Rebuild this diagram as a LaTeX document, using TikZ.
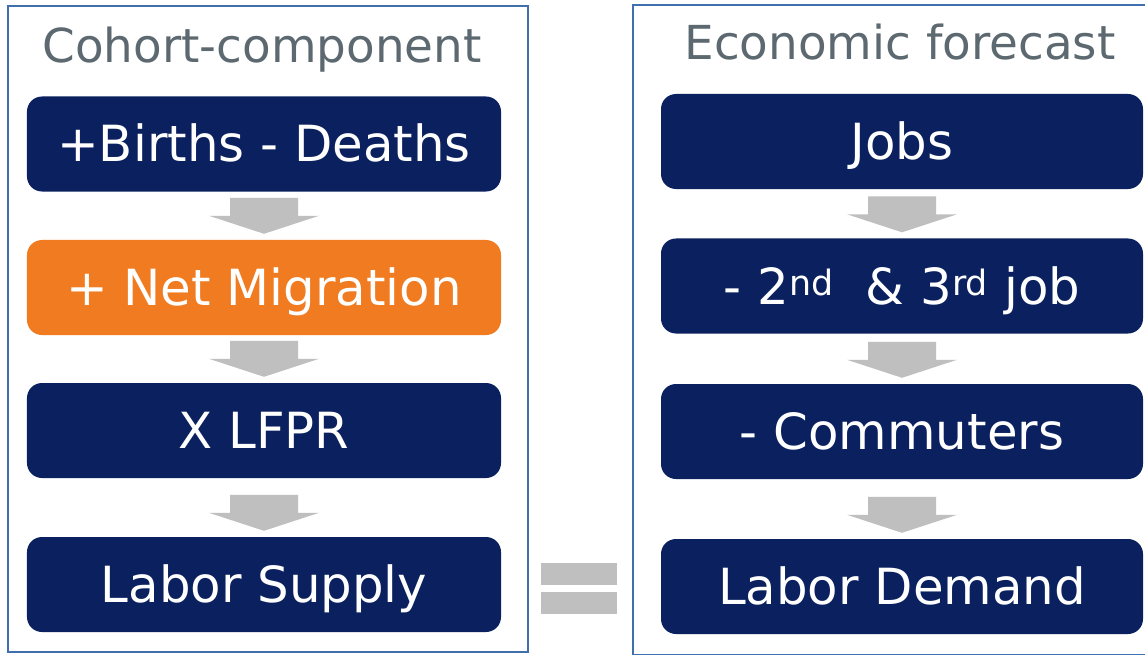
\documentclass[tikz,border=0pt]{standalone}
\usepackage{fontspec}
\setmainfont{DejaVu Sans}
\usetikzlibrary{calc}

\definecolor{navy}{HTML}{0B215F}
\definecolor{migorange}{HTML}{F07B21}
\definecolor{arrowgray}{HTML}{BFBFBF}
\definecolor{frameblue}{HTML}{3F6FAD}
\definecolor{titlegray}{HTML}{5D6970}

\begin{document}
\begin{tikzpicture}[x=1bp,y=-1bp,
    frame/.style={draw=frameblue, line width=1.6bp},
    title/.style={text=titlegray, font=\fontsize{47}{56}\selectfont, text height=34bp, text depth=0pt, inner sep=0pt},
    stage/.style={fill=navy, text=white, rounded corners=15bp, minimum height=95bp, inner sep=0pt,
        font=\fontsize{50}{60}\selectfont, text height=36bp, text depth=0pt},
    lstage/.style={stage, minimum width=474bp},
    rstage/.style={stage, minimum width=482bp}]
        \clip (0,0) rectangle (1145,655);
        \fill[white] (0,0) rectangle (1145,655);

        \begin{scope}
        \draw[frame] (8,6) rectangle (528,652);
        \node[title] (lt) at (262,46) {Cohort-component};
        \node[lstage] (bd) at (264,144) {+Births - Deaths};
        \node[lstage, fill=migorange] (nm) at (264,287.5) {+ Net Migration};
        \node[lstage] (lf) at (264,430.5) {X LFPR};
        \node[lstage] (ls) at (264,584.5) {Labor Supply};
        \end{scope}

        \begin{scope}
        \draw[frame] (633,5) rectangle (1172,655);
        \node[title] (rt) at (900,43) {Economic forecast};
        \node[rstage] (jb) at (902,141.5) {Jobs};
        \node[rstage] (sj) at (902,286) {- 2\textsuperscript{nd}~ \& 3\textsuperscript{rd} job};
        \node[rstage] (cm) at (902,431.5) {- Commuters};
        \node[rstage] (ld) at (902,586.5) {Labor Demand};
        \end{scope}

        % block arrows, tip just above the next box
        \foreach \b in {nm,lf,ls,sj,cm,ld}{
            \fill[arrowgray] ($(\b.north)+(0,-6)$) -- ++(-55,-18) -- ++(21,0) -- ++(0,-18)
                -- ++(68,0) -- ++(0,18) -- ++(21,0) -- cycle;
        }

        % equals sign
        \foreach \y in {563,592}{
            \fill[arrowgray] (541,\y) rectangle (617,\y+22);
        }
    \end{tikzpicture}
\end{document}
